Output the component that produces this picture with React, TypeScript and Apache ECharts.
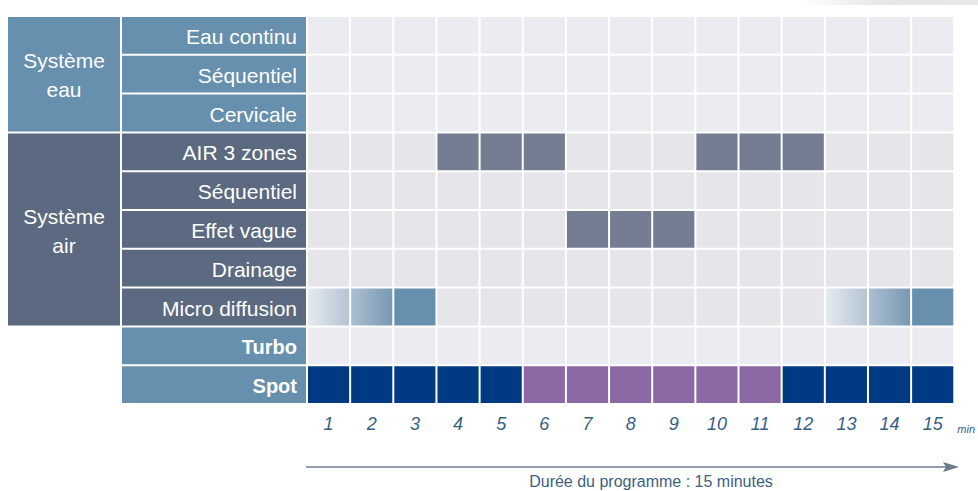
import React, { useEffect, useRef } from "react";
import * as echarts from "echarts";

const minutes = ["1", "2", "3", "4", "5", "6", "7", "8", "9", "10", "11", "12", "13", "14", "15"];
const rowKeys = ["r0", "r1", "r2", "r3", "r4", "r5", "r6", "r7", "r8", "r9"];
const rowLabels = ["Eau continu", "Séquentiel", "Cervicale", "AIR 3 zones", "Séquentiel", "Effet vague", "Drainage", "Micro diffusion", "Turbo", "Spot"];
const rowKind = ["eau", "eau", "eau", "air", "air", "air", "air", "micro", "option", "spot"];
const groupNames = ["Système\neau", "Système\nair"];
const groupFirstRow = [0, 3];
const groupLastRow = [2, 7];

const eauContinu = [0, 0, 0, 0, 0, 0, 0, 0, 0, 0, 0, 0, 0, 0, 0];
const eauSequentiel = [0, 0, 0, 0, 0, 0, 0, 0, 0, 0, 0, 0, 0, 0, 0];
const cervicale = [0, 0, 0, 0, 0, 0, 0, 0, 0, 0, 0, 0, 0, 0, 0];
const air3Zones = [0, 0, 0, 1, 1, 1, 0, 0, 0, 1, 1, 1, 0, 0, 0];
const airSequentiel = [0, 0, 0, 0, 0, 0, 0, 0, 0, 0, 0, 0, 0, 0, 0];
const effetVague = [0, 0, 0, 0, 0, 0, 1, 1, 1, 0, 0, 0, 0, 0, 0];
const drainage = [0, 0, 0, 0, 0, 0, 0, 0, 0, 0, 0, 0, 0, 0, 0];
const microDiffusion = [1, 2, 3, 0, 0, 0, 0, 0, 0, 0, 0, 0, 1, 2, 3];
const turbo = [0, 0, 0, 0, 0, 0, 0, 0, 0, 0, 0, 0, 0, 0, 0];
const spot = [1, 1, 1, 1, 1, 2, 2, 2, 2, 2, 2, 1, 1, 1, 1];

const rowStates = [eauContinu, eauSequentiel, cervicale, air3Zones, airSequentiel, effetVague, drainage, microDiffusion, turbo, spot];

const FONT = '"Liberation Sans", Arial, sans-serif';

function cellFill(r: number, s: number): any {
  const kind = rowKind[r];
  if (kind === "spot") return s === 2 ? "#8c69a5" : "#003a82";
  if (kind === "micro") {
    if (s === 1)
      return new echarts.graphic.LinearGradient(0, 0, 1, 0, [
        { offset: 0, color: "#e6eaf0" },
        { offset: 1, color: "#b4c4d3" },
      ]);
    if (s === 2)
      return new echarts.graphic.LinearGradient(0, 0, 1, 0, [
        { offset: 0, color: "#adbfcf" },
        { offset: 1, color: "#7899b4" },
      ]);
    if (s === 3) return "#6690ad";
    return "#e6e5ea";
  }
  if (kind === "air") return s ? "#747d92" : "#e6e5ea";
  return "#eaecf1";
}

export default function App() {
  const ref = useRef<HTMLDivElement>(null);
  useEffect(() => {
    if (!ref.current) return;
    const chart = echarts.init(ref.current, null, { renderer: "svg" });

    const cellData: number[][] = [];
    rowStates.forEach((row, r) => row.forEach((s, c) => cellData.push([c, r, s])));

    const labelData = rowLabels.map((_, r) => [0, r]);
    const groupData = groupNames.map((_, g) => [0, groupFirstRow[g], groupLastRow[g], g]);

    chart.setOption({
      animation: false,
      backgroundColor: "#ffffff",
      grid: { left: 307, right: 18, top: 16, bottom: 87, containLabel: false },
      xAxis: {
        type: "category",
        data: minutes,
        axisLine: { show: false },
        axisTick: { show: false },
        splitLine: { show: false },
        axisLabel: {
          margin: 11,
          fontSize: 18,
          fontStyle: "italic",
          color: "#365f86",
          fontFamily: FONT,
        },
        name: "min",
        nameLocation: "end",
        nameGap: 3,
        nameTextStyle: {
          fontSize: 11,
          fontStyle: "italic",
          color: "#365f86",
          fontFamily: FONT,
          verticalAlign: "top",
          align: "left",
          padding: [19, 0, 0, 0],
        },
      },
      yAxis: {
        type: "category",
        data: rowKeys,
        inverse: true,
        axisLine: { show: false },
        axisTick: { show: false },
        axisLabel: { show: false },
        splitLine: { show: false },
      },
      graphic: [
        {
          type: "rect",
          shape: { x: 800, y: 0, width: 178, height: 5 },
          style: {
            fill: new echarts.graphic.LinearGradient(0, 0, 1, 0, [
              { offset: 0, color: "rgba(226,226,226,0)" },
              { offset: 0.5, color: "#e6e6e6" },
              { offset: 1, color: "#e9e9e9" },
            ]),
          },
        },
        {
          type: "line",
          shape: { x1: 306, y1: 467, x2: 950, y2: 467 },
          style: { stroke: "#6d7a8e", lineWidth: 1.5 },
        },
        {
          type: "polygon",
          shape: { points: [[943, 462], [959, 467], [943, 472], [946, 467]] },
          style: { fill: "#6d7a8e" },
        },
        {
          type: "text",
          x: 651,
          y: 481,
          style: {
            text: "Durée du programme : 15 minutes",
            fontSize: 16,
            fontFamily: FONT,
            fill: "#3d5f82",
            align: "center",
            verticalAlign: "middle",
          },
        },
      ],
      series: [
        {
          type: "custom",
          coordinateSystem: "cartesian2d",
          encode: { x: 0, y: 1 },
          data: cellData,
          renderItem: (params: any, api: any) => {
            const c = api.value(0);
            const r = api.value(1);
            const s = api.value(2);
            const p = api.coord([c, r]);
            const sz = api.size([1, 1]);
            return {
              type: "rect",
              shape: { x: p[0] - sz[0] / 2 + 1, y: p[1] - sz[1] / 2 + 1, width: sz[0] - 2, height: sz[1] - 2 },
              style: { fill: cellFill(r, s) },
            };
          },
        },
        {
          type: "custom",
          coordinateSystem: "cartesian2d",
          encode: { x: 0, y: 1 },
          clip: false,
          data: labelData,
          renderItem: (params: any, api: any) => {
            const r = api.value(1);
            const p = api.coord([0, r]);
            const sz = api.size([1, 1]);
            const left = p[0] - sz[0] / 2;
            const kind = rowKind[r];
            const fill = kind === "eau" || kind === "option" || kind === "spot" ? "#6690ad" : "#5b6a80";
            const bold = kind === "option" || kind === "spot";
            return {
              type: "group",
              children: [
                {
                  type: "rect",
                  shape: { x: left - 185, y: p[1] - sz[1] / 2 + 1, width: 184, height: sz[1] - 2 },
                  style: { fill },
                },
                {
                  type: "text",
                  style: {
                    text: rowLabels[r],
                    x: left - 10,
                    y: p[1] + 1,
                    align: "right",
                    verticalAlign: "middle",
                    fill: "#ffffff",
                    fontSize: bold ? 20 : 21,
                    fontWeight: bold ? "bold" : "normal",
                    fontFamily: FONT,
                  },
                },
              ],
            };
          },
        },
        {
          type: "custom",
          coordinateSystem: "cartesian2d",
          encode: { x: 0, y: [1, 2] },
          clip: false,
          data: groupData,
          renderItem: (params: any, api: any) => {
            const first = api.value(1);
            const last = api.value(2);
            const g = api.value(3);
            const p1 = api.coord([0, first]);
            const p2 = api.coord([0, last]);
            const sz = api.size([1, 1]);
            const left = p1[0] - sz[0] / 2;
            const top = p1[1] - sz[1] / 2 + 1;
            const bottom = p2[1] + sz[1] / 2 - 1;
            const fill = g === 0 ? "#6690ad" : "#5b6a80";
            return {
              type: "group",
              children: [
                {
                  type: "rect",
                  shape: { x: left - 299, y: top, width: 112, height: bottom - top },
                  style: { fill },
                },
                {
                  type: "text",
                  style: {
                    text: groupNames[g],
                    x: left - 243,
                    y: g === 0 ? top + 58 : top + 98,
                    align: "center",
                    verticalAlign: "middle",
                    fill: "#ffffff",
                    fontSize: 21,
                    lineHeight: 29,
                    fontFamily: FONT,
                  },
                },
              ],
            };
          },
        },
      ],
    });
    return () => chart.dispose();
  }, []);
  return <div ref={ref} style={{ width: 978, height: 491, position: "absolute", left: 0, top: 0 }} />;
}
